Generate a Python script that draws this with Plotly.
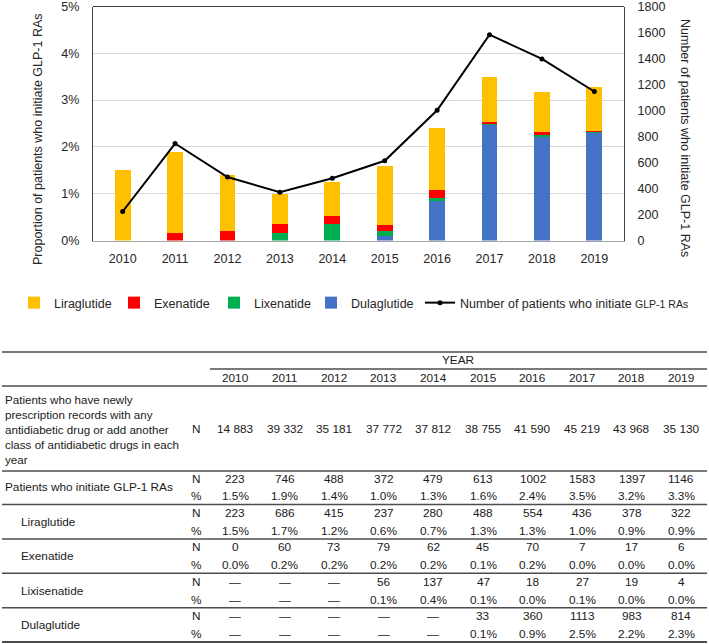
import plotly.graph_objects as go

# ---------------- data ----------------
years = ["2010", "2011", "2012", "2013", "2014", "2015", "2016", "2017", "2018", "2019"]

# bar values (% of patients)
liraglutide_pct = [1.50, 1.74, 1.18, 0.63, 0.74, 1.26, 1.33, 0.96, 0.86, 0.92]
exenatide_pct = [0.00, 0.15, 0.21, 0.21, 0.16, 0.12, 0.17, 0.02, 0.04, 0.02]
lixisenatide_pct = [0.00, 0.00, 0.00, 0.15, 0.36, 0.12, 0.04, 0.06, 0.04, 0.01]
dulaglutide_pct = [0.00, 0.00, 0.00, 0.00, 0.00, 0.09, 0.87, 2.46, 2.24, 2.32]
initiators_n = [223, 746, 488, 372, 479, 613, 1002, 1583, 1397, 1146]

# table values
new_rx_n = [14883, 39332, 35181, 37772, 37812, 38755, 41590, 45219, 43968, 35130]
glp1_pct_tbl = [1.5, 1.9, 1.4, 1.0, 1.3, 1.6, 2.4, 3.5, 3.2, 3.3]
lira_n = [223, 686, 415, 237, 280, 488, 554, 436, 378, 322]
lira_pct_tbl = [1.5, 1.7, 1.2, 0.6, 0.7, 1.3, 1.3, 1.0, 0.9, 0.9]
exe_n = [0, 60, 73, 79, 62, 45, 70, 7, 17, 6]
exe_pct_tbl = [0.0, 0.2, 0.2, 0.2, 0.2, 0.1, 0.2, 0.0, 0.0, 0.0]
lixi_n = [None, None, None, 56, 137, 47, 18, 27, 19, 4]
lixi_pct_tbl = [None, None, None, 0.1, 0.4, 0.1, 0.0, 0.1, 0.0, 0.0]
dula_n = [None, None, None, None, None, 33, 360, 1113, 983, 814]
dula_pct_tbl = [None, None, None, None, None, 0.1, 0.9, 2.5, 2.2, 2.3]

left_ticks = [0, 1, 2, 3, 4, 5]
right_ticks = [0, 200, 400, 600, 800, 1000, 1200, 1400, 1600, 1800]

# ---------------- style ----------------
W, H = 709, 644
FONT = "Liberation Sans, Arial, sans-serif"
TXT = "#262626"
C_LIRA, C_EXE, C_LIXI, C_DULA = "#FFC000", "#FF0000", "#00B050", "#4472C4"


def px(x):
    return x / W


def py(y):
    return 1 - y / H


fig = go.Figure()
fig.add_trace(go.Bar(x=years, y=dulaglutide_pct, name="Dulaglutide", marker_color=C_DULA,
                     marker_line_width=0, legend="legend3"))
fig.add_trace(go.Bar(x=years, y=lixisenatide_pct, name="Lixenatide", marker_color=C_LIXI,
                     marker_line_width=0, legendrank=3))
fig.add_trace(go.Bar(x=years, y=exenatide_pct, name="Exenatide", marker_color=C_EXE,
                     marker_line_width=0, legendrank=2))
fig.add_trace(go.Bar(x=years, y=liraglutide_pct, name="Liraglutide", marker_color=C_LIRA,
                     marker_line_width=0, legendrank=1))
fig.add_trace(go.Scatter(x=years, y=initiators_n, yaxis="y2", mode="lines+markers",
                         name="Number of patients who initiate <span style='font-size:10.5px'>GLP-1 RAs</span>",
                         line=dict(color="black", width=2), marker=dict(color="black", size=5),
                         legend="legend2"))

axis_common = dict(automargin=False, ticklabeloverflow="allow")
leg_common = dict(orientation="h", xanchor="left", y=py(303), yanchor="middle",
                  font=dict(size=12.5, color=TXT), itemwidth=30, bgcolor="rgba(0,0,0,0)")
fig.update_layout(
    width=W, height=H,
    margin=dict(l=0, r=0, t=0, b=0, autoexpand=False),
    paper_bgcolor="white", plot_bgcolor="white",
    barmode="stack", bargap=0.7,
    font=dict(family=FONT, size=12, color=TXT),
    xaxis=dict(domain=[px(93), px(624)], showline=True, linecolor="#a6a6a6", linewidth=1,
               showgrid=False, ticks="", ticklabelstandoff=6,
               tickfont=dict(size=12.5, color=TXT), **axis_common),
    yaxis=dict(range=[0, 5], domain=[py(240.5), py(6.5)], tickvals=left_ticks,
               ticktext=[f"{t}%" for t in left_ticks], showline=True, linecolor="#404040",
               linewidth=1.2, showgrid=True, gridcolor="#d9d9d9", gridwidth=1,
               zeroline=False, ticks="", ticklabelstandoff=10,
               tickfont=dict(size=12.5, color=TXT), **axis_common),
    yaxis2=dict(range=[0, 1800], overlaying="y", side="right", tickvals=right_ticks,
                showline=True, linecolor="#404040", linewidth=1.2, showgrid=False,
                zeroline=False, ticks="", ticklabelstandoff=10,
                tickfont=dict(size=12.5, color=TXT), **axis_common),
    legend=dict(x=px(14), entrywidth=55, traceorder="normal", **leg_common),
    legend3=dict(x=px(311), **leg_common),
    legend2=dict(x=px(420), **leg_common),
)

# top border of plot area
fig.add_shape(type="line", xref="x domain", yref="y domain", x0=0, x1=1, y0=1, y1=1,
              line=dict(color="#404040", width=1.2))

# axis titles
fig.add_annotation(text="Proportion of patients who initiate GLP-1 RAs", xref="paper", yref="paper",
                   x=px(38), y=py(139), textangle=-90, showarrow=False,
                   font=dict(size=12.5, color=TXT), xanchor="center", yanchor="middle")
fig.add_annotation(text="Number of patients who initiate GLP-1 RAs", xref="paper", yref="paper",
                   x=px(685), y=py(138), textangle=90, showarrow=False,
                   font=dict(size=12.5, color=TXT), xanchor="center", yanchor="middle")

# ---------------- table ----------------
TF = 11.8
LINE_C = "#4d4d4d"
col_x0, col_dx = 235, 49.6
col_xs = [col_x0 + i * col_dx for i in range(len(years))]
nx = 196


def hline(y, x0=2, x1=707, w=1.5):
    fig.add_shape(type="line", xref="paper", yref="paper", x0=px(x0), x1=px(x1),
                  y0=py(y), y1=py(y), line=dict(color=LINE_C, width=w))


def txt(s, x, y, anchor="center", size=TF):
    fig.add_annotation(text=s, xref="paper", yref="paper", x=px(x), y=py(y), showarrow=False,
                       xanchor=anchor, yanchor="middle", align=anchor,
                       font=dict(size=size, color="#1a1a1a"))


hline(352)
txt("YEAR", (col_xs[0] + col_xs[-1]) / 2, 360)
hline(369, x0=210)
for cx, yr in zip(col_xs, years):
    txt(yr, cx, 378)
hline(386)

txt("Patients who have newly<br>prescription records with any<br>antidiabetic drug or add another"
    "<br>class of antidiabetic drugs in each<br>year", 3, 429, anchor="left", size=11.6)
txt("N", nx, 429)
for cx, v in zip(col_xs, new_rx_n):
    txt(f"{v:,}".replace(",", " "), cx, 429)
hline(471)

groups = [
    ("Patients who initiate GLP-1 RAs", 3, initiators_n, glp1_pct_tbl),
    ("Liraglutide", 19, lira_n, lira_pct_tbl),
    ("Exenatide", 19, exe_n, exe_pct_tbl),
    ("Lixisenatide", 19, lixi_n, lixi_pct_tbl),
    ("Dulaglutide", 19, dula_n, dula_pct_tbl),
]
g_y0, g_dy, pct_off = 478.5, 34.4, 17.8
for gi, (label, lx, ns, ps) in enumerate(groups):
    yn = g_y0 + gi * g_dy
    yp = yn + pct_off
    txt(label, lx, (yn + yp) / 2, anchor="left")
    txt("N", nx, yn)
    txt("%", nx, yp)
    for cx, n, p in zip(col_xs, ns, ps):
        txt("—" if n is None else str(n), cx, yn)
        txt("—" if p is None else f"{p:.1f}%", cx, yp)
    sep = yp + 8.2
    hline(sep, w=1.5 if gi < len(groups) - 1 else 2)

fig.write_html("out.html", config={"displayModeBar": False},
               post_script="document.body.style.margin='0px';")
